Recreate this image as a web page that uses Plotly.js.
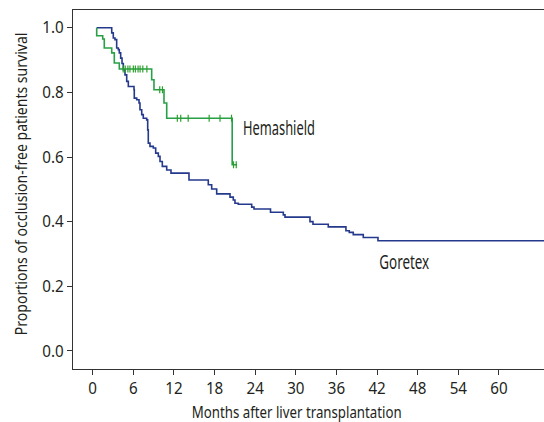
<!DOCTYPE html>
<html>
<head>
<meta charset="utf-8">
<script src="https://cdn.plot.ly/plotly-3.0.1.min.js"></script>
<style>html,body{margin:0;padding:0;background:#fff;}#chart{width:544px;height:422px;}</style>
</head>
<body>
<div id="chart"></div>
<script>
// Goretex Kaplan-Meier steps (months, survival proportion)
const goretexTime = [0.59, 2.81, 3.04, 3.29, 3.54, 3.78, 3.93, 4.13, 4.33, 4.52, 4.77, 5.02, 5.26, 6.10, 6.14, 6.50, 6.84, 6.98, 7.24, 7.47, 7.97, 8.12, 8.21, 8.46, 8.95, 9.30, 9.69, 9.94, 10.28, 10.93, 11.56, 14.22, 17.07, 17.57, 18.31, 20.28, 20.76, 21.01, 21.50, 23.48, 23.82, 26.26, 28.15, 28.40, 32.09, 32.53, 34.79, 37.40, 37.89, 38.48, 39.96, 42.13, 68];
const goretexSurv = [1.000, 0.984, 0.968, 0.963, 0.937, 0.932, 0.922, 0.906, 0.889, 0.870, 0.854, 0.834, 0.818, 0.808, 0.782, 0.777, 0.767, 0.746, 0.731, 0.720, 0.715, 0.684, 0.643, 0.633, 0.628, 0.612, 0.602, 0.586, 0.571, 0.560, 0.550, 0.529, 0.514, 0.501, 0.486, 0.476, 0.467, 0.457, 0.454, 0.445, 0.439, 0.429, 0.421, 0.414, 0.400, 0.392, 0.384, 0.372, 0.367, 0.360, 0.351, 0.341, 0.341];

// Hemashield Kaplan-Meier steps
const hemaTime = [0.59, 0.59, 1.48, 1.71, 2.81, 3.19, 3.93, 8.71, 9.05, 10.53, 10.93, 20.6, 21.3];
const hemaSurv = [1.000, 0.975, 0.965, 0.937, 0.922, 0.891, 0.872, 0.839, 0.808, 0.767, 0.720, 0.576, 0.576];

// Hemashield censored observations
const hemaCensTime = [4.5, 4.8, 5.2, 5.5, 6.0, 6.3, 6.7, 7.0, 7.4, 8.0, 9.9, 10.3, 12.5, 13.0, 14.1, 17.2, 18.8, 20.5, 20.8, 21.2];
const hemaCensSurv = [0.872, 0.872, 0.872, 0.872, 0.872, 0.872, 0.872, 0.872, 0.872, 0.872, 0.808, 0.808, 0.720, 0.720, 0.720, 0.720, 0.720, 0.720, 0.576, 0.576];

const xTicks = [0, 6, 12, 18, 24, 30, 36, 42, 48, 54, 60];
const yTicks = [0, 0.2, 0.4, 0.6, 0.8, 1.0];
const yTickText = ['0.0', '0.2', '0.4', '0.6', '0.8', '1.0'];

const seriesNames = ['Goretex', 'Hemashield'];
const labelX = [46.1, 27.47];
const labelY = [0.278, 0.692];
const xTitle = 'Months after liver transplantation';
const yTitle = 'Proportions of occlusion-free patients survival';

const FONT = '"Noto Sans", "Open Sans", "DejaVu Sans", sans-serif';
const TXT = '#231f20';
const BLUE = '#24388c';
const GREEN = '#27a046';

const traces = [
  {x: goretexTime, y: goretexSurv, type: 'scatter', mode: 'lines', line: {shape: 'hv', color: BLUE, width: 1.6}, name: seriesNames[0], hoverinfo: 'skip'},
  {x: hemaTime, y: hemaSurv, type: 'scatter', mode: 'lines', line: {shape: 'hv', color: GREEN, width: 1.6}, name: seriesNames[1], hoverinfo: 'skip'},
  {x: hemaCensTime, y: hemaCensSurv, type: 'scatter', mode: 'markers', marker: {symbol: 'line-ns-open', size: 5, line: {color: GREEN, width: 1.2}}, hoverinfo: 'skip'}
];

const annotations = seriesNames.map((n, i) => ({
  x: labelX[i], y: labelY[i], xref: 'x', yref: 'y', text: n, showarrow: false,
  xanchor: 'center', yanchor: 'middle', font: {family: FONT, size: 20, color: TXT}
}));
annotations.push({x: 0.475, y: -0.1187, xref: 'paper', yref: 'paper', text: xTitle, showarrow: false,
  xanchor: 'center', yanchor: 'middle', font: {family: FONT, size: 16, color: TXT}});
annotations.push({x: -0.1108, y: 0.5167, xref: 'paper', yref: 'paper', text: yTitle, showarrow: false, textangle: -90,
  xanchor: 'center', yanchor: 'middle', font: {family: FONT, size: 16, color: TXT}});

const layout = {
  width: 544, height: 422,
  margin: {l: 73, r: 0, t: 10, b: 53, pad: 0},
  paper_bgcolor: '#fff', plot_bgcolor: '#fff',
  showlegend: false,
  font: {family: FONT, size: 16, color: TXT},
  xaxis: {
    range: [-2.91, 66.65], tickvals: xTicks, ticktext: xTicks.map(String),
    ticks: 'outside', ticklen: 5, tickwidth: 1, tickcolor: '#333',
    showline: true, linecolor: '#333', linewidth: 1, mirror: true,
    showgrid: false, zeroline: false,
    tickfont: {family: FONT, size: 16, color: TXT}
  },
  yaxis: {
    range: [-0.0557, 1.0547], tickvals: yTicks, ticktext: yTickText,
    ticks: 'outside', ticklen: 5, tickwidth: 1, tickcolor: '#333',
    showline: true, linecolor: '#333', linewidth: 1,
    showgrid: false, zeroline: false,
    tickfont: {family: FONT, size: 16, color: TXT}
  },
  annotations: annotations
};

// Condense text horizontally (reference uses a condensed typeface)
function squeeze(el, s) {
  const x = parseFloat(el.getAttribute('x')) || 0;
  const t = el.getAttribute('transform') || '';
  el.setAttribute('transform', (t + ' translate(' + x + ',0) scale(' + s + ',1) translate(' + (-x) + ',0)').trim());
}
const targetWidths = {};
targetWidths[xTitle] = 210; targetWidths[yTitle] = 303;
targetWidths['Hemashield'] = 72; targetWidths['Goretex'] = 50;

Plotly.newPlot('chart', traces, layout, {displayModeBar: false, staticPlot: true}).then(function (gd) {
  gd.querySelectorAll('.annotation-text').forEach(function (el) {
    const txt = el.textContent;
    if (targetWidths[txt]) {
      squeeze(el, targetWidths[txt] / el.getComputedTextLength());
    }
  });
  gd.querySelectorAll('.xtick text, .ytick text').forEach(function (el) { squeeze(el, 0.95); });
});
</script>
</body>
</html>
